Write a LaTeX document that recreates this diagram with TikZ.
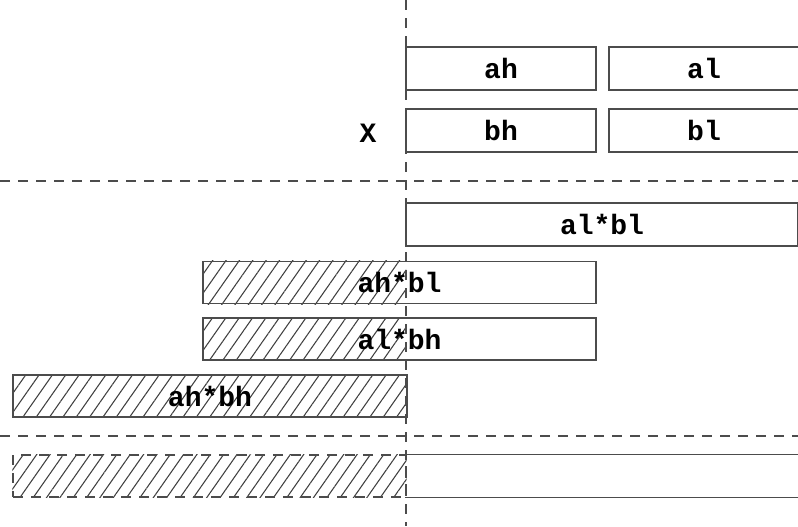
\documentclass[tikz,border=0pt]{standalone}
\usepackage{fontspec}
\setmonofont{Liberation Mono}
\usetikzlibrary{backgrounds, patterns.meta}

\begin{document}
\begin{tikzpicture}[x=0.75pt, y=-0.75pt,
    cell/.style={draw=black!70, line width=1pt, inner sep=0pt, minimum height=32.25pt,
      font=\ttfamily\bfseries\fontsize{21}{24}\selectfont},
    half/.style={cell, minimum width=142.5pt},
    full/.style={cell, minimum width=294pt},
    hatch/.style={pattern={Lines[angle=55, distance=8.2pt, line width=0.8pt]}, pattern color=black!75},
    sep/.style={draw=black!70, line width=1pt, dash pattern=on 7.5pt off 6pt}]
    \useasboundingbox (0,0) rectangle (798,526);
    %split axis
    \coordinate (top) at (406,0);
    \coordinate (bot) at (406,526);
    %operands
    \node[half] at (501,68.5) (ah){ah};
    \node[half] at (704,68.5) (al){al};
    \node[half] at (501,130.5) (bh){bh};
    \node[half] at (704,130.5) (bl){bl};
    \node[font=\ttfamily\bfseries\fontsize{21}{24}\selectfont] at (368,133) (x){X};
    \draw[sep] (0,181) -- (798,181);
    %partial products
    \node[full] at (602,224.5) (albl){al*bl};
    \node[full, minimum height=31.5pt, minimum width=294.75pt] at (399.5,282.5) (ahbl){ah*bl};
    \node[full, minimum height=31.5pt, minimum width=294.75pt] at (399.5,339) (albh){al*bh};
    \node[full, hatch, minimum height=31.5pt, minimum width=295.5pt] at (210,396) (ahbh){ah*bh};
    \draw[sep] (0,436) -- (798,436);
    %result
    \node[full, dash pattern=on 7.5pt off 6pt, minimum height=31.5pt, minimum width=294.75pt] at (209.5,476) (hi){};
    \node[full, draw=none, minimum height=31.5pt] at (602,476) (lo){};
    \draw[draw=black!70, line width=1pt] (lo.north west) -- (lo.north east) (lo.south west) -- (lo.south east);
    \begin{scope}[on background layer]
      \fill[hatch] (ahbl.north west) rectangle (ahbl.south -| top);
      \fill[hatch] (albh.north west) rectangle (albh.south -| top);
      \fill[hatch] (hi.north west) rectangle (hi.south east);
    \end{scope}
    \draw[sep] (top) -- (bot);
\end{tikzpicture}
\end{document}
